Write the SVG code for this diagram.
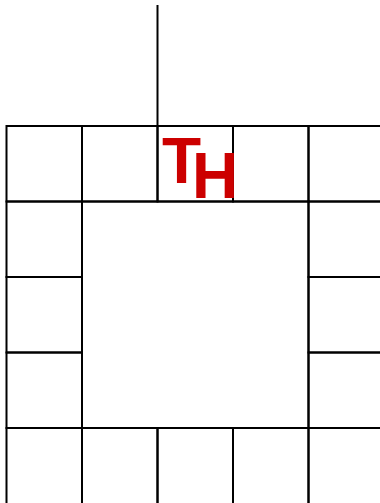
<svg xmlns="http://www.w3.org/2000/svg" width="380" height="503" viewBox="0 0 380 503">
<style>
.cell{fill:none;stroke:#000;stroke-width:2}
.ln{stroke:#000;stroke-width:2;fill:none}
.lbl{font-family:"Liberation Sans",Arial,sans-serif;font-weight:bold;font-size:64px;fill:#cc0000}
</style>
<rect width="380" height="503" fill="#fff"/>
<g id="connectors">
<line class="ln" x1="157.5" y1="5" x2="157.5" y2="126"/>
</g>
<g id="center"><rect class="cell" x="82" y="201.5" width="226.5" height="226.5"/></g>
<g id="top-row">
<g id="t1"><rect class="cell" x="6.5" y="126" width="75.5" height="75.5"/></g>
<g id="t2"><rect class="cell" x="82" y="126" width="75.5" height="75.5"/></g>
<g id="t3"><rect class="cell" x="157.5" y="126" width="75.5" height="75.5"/></g>
<g id="t4"><rect class="cell" x="233" y="126" width="75.5" height="75.5"/></g>
<g id="t5"><rect class="cell" x="308.5" y="126" width="75.5" height="75.5"/></g>
</g>
<g id="left-col">
<g id="l1"><rect class="cell" x="6.5" y="201.5" width="75.5" height="75.5"/></g>
<g id="l2"><rect class="cell" x="6.5" y="277" width="75.5" height="75.5"/></g>
<g id="l3"><rect class="cell" x="6.5" y="352.5" width="75.5" height="75.5"/></g>
</g>
<g id="right-col">
<g id="r1"><rect class="cell" x="308.5" y="201.5" width="75.5" height="75.5"/></g>
<g id="r2"><rect class="cell" x="308.5" y="277" width="75.5" height="75.5"/></g>
<g id="r3"><rect class="cell" x="308.5" y="352.5" width="75.5" height="75.5"/></g>
</g>
<g id="bottom-row">
<g id="b1"><rect class="cell" x="6.5" y="428" width="75.5" height="80"/></g>
<g id="b2"><rect class="cell" x="82" y="428" width="75.5" height="80"/></g>
<g id="b3"><rect class="cell" x="157.5" y="428" width="75.5" height="80"/></g>
<g id="b4"><rect class="cell" x="233" y="428" width="75.5" height="80"/></g>
<g id="b5"><rect class="cell" x="308.5" y="428" width="75.5" height="80"/></g>
</g>
<g id="label">
<text class="lbl" x="162" y="183">T<tspan dx="-9" dy="15.3">H</tspan></text>
</g>
</svg>
